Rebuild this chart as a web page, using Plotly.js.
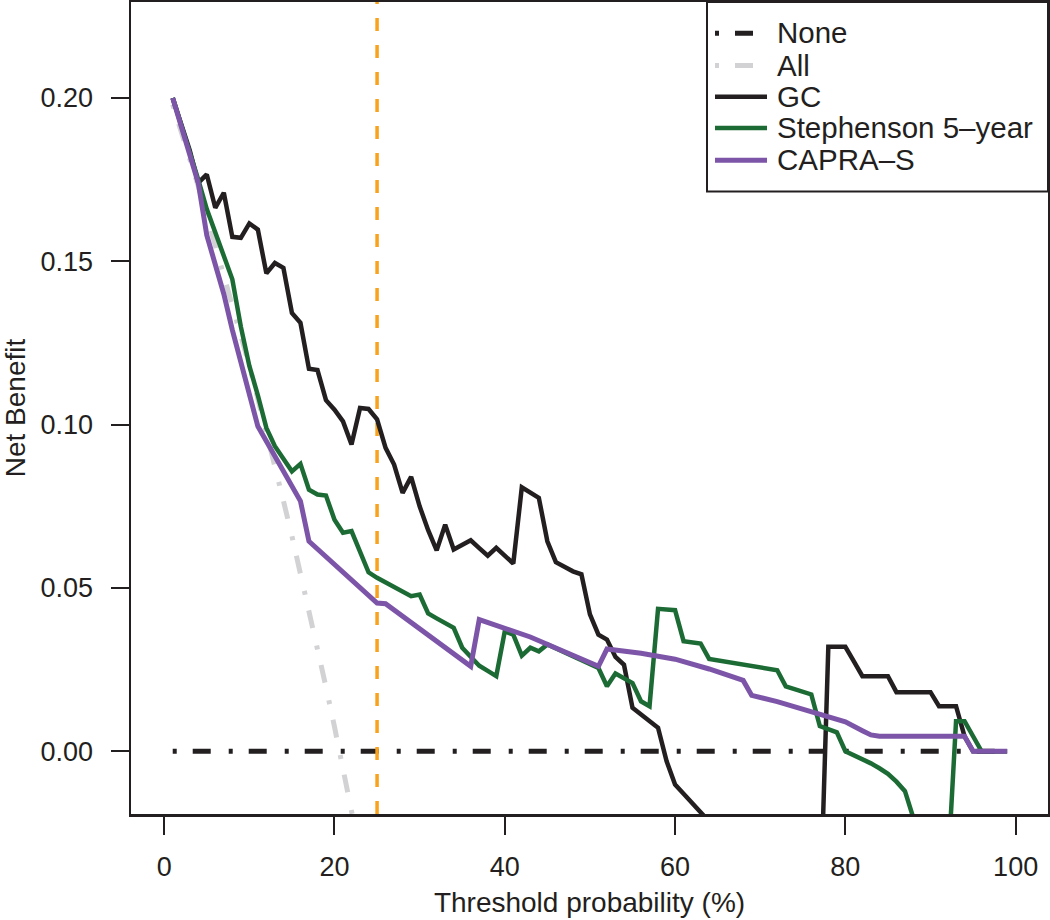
<!DOCTYPE html>
<html>
<head>
<meta charset="utf-8">
<script src="https://cdn.plot.ly/plotly-3.0.1.min.js"></script>
<style>
  html, body { margin: 0; padding: 0; background: #ffffff; }
  #chart { width: 1050px; height: 920px; }
</style>
</head>
<body>
<div id="chart"></div>
<script>
// ---------------- data ----------------
const seriesNames = ["None", "All", "GC", "Stephenson 5\u2013year", "CAPRA\u2013S"];

const noneX = [1, 99];
const noneY = [0, 0];

const allX = [1, 2, 3, 4, 5, 6, 7, 8, 9, 10, 11, 12, 13, 14, 15, 16, 17, 18, 19, 20, 21, 22, 23];
const allY = [0.198, 0.190, 0.1815, 0.173, 0.164, 0.155, 0.146, 0.137, 0.1275, 0.118, 0.108, 0.098,
              0.0874, 0.0767, 0.0659, 0.0547, 0.0434, 0.0317, 0.0197, 0.0075, -0.0050, -0.0180, -0.0312];

const gcX = [1, 2, 3, 4, 5, 6, 7, 8, 9, 10, 11, 12, 13, 14, 15, 16, 17, 18, 19, 20,
             21, 22, 23, 24, 25, 26, 27, 28, 29, 30, 31, 32, 33, 34, 35, 36, 37, 38, 39, 40,
             41, 42, 43, 44, 45, 46, 47, 48, 49, 50, 51, 52, 53, 54, 55, 56, 57, 58, 59, 60,
             61, 62, 63, 64, 70, 77, 78, 79, 80, 81, 82, 83, 84, 85, 86, 87, 88, 89, 90,
             91, 92, 93, 94, 95, 96, 97, 98, 99];
const gcY = [0.200, 0.192, 0.184, 0.174, 0.1766, 0.1664, 0.1710, 0.1575, 0.1572, 0.1616,
             0.1597, 0.1463, 0.1495, 0.1480, 0.1342, 0.1312, 0.1171, 0.1167, 0.1075, 0.1046,
             0.1010, 0.0939, 0.1051, 0.1048, 0.1016, 0.0929, 0.0878, 0.0791, 0.0840, 0.0750,
             0.0677, 0.0615, 0.0694, 0.0618, 0.0632, 0.0646, 0.0622, 0.0599, 0.0623, 0.0599,
             0.0575, 0.0808, 0.0792, 0.0776, 0.0643, 0.0579, 0.0565, 0.0551, 0.0542, 0.0419,
             0.0357, 0.0342, 0.0289, 0.0265, 0.0133, 0.0113, 0.0093, 0.0072, -0.0030, -0.0102,
             -0.0130, -0.0158, -0.0186, -0.0215, -0.040, -0.053, 0.032, 0.032, 0.032, 0.0275,
             0.023, 0.023, 0.023, 0.023, 0.0181, 0.0181, 0.0181, 0.0181, 0.0181,
             0.0138, 0.0138, 0.0138, 0.0046, 0, 0, 0, 0, 0];

const stX = [1, 2, 3, 4, 5, 6, 7, 8, 9, 10, 11, 12, 13, 14, 15, 16, 17, 18, 19, 20,
             21, 22, 23, 24, 25, 26, 27, 28, 29, 30, 31, 32, 33, 34, 35, 36, 37, 38, 39, 40,
             41, 42, 43, 44, 45, 51, 52, 53, 54, 55, 56, 57, 58, 59, 60, 61, 62, 63, 64, 68,
             72, 73, 74, 75, 76, 77, 78, 79, 80, 81, 82, 83, 84, 85, 86, 87, 88, 90, 92,
             93, 94, 95, 96, 99];
const stY = [0.200, 0.192, 0.184, 0.175, 0.166, 0.1587, 0.152, 0.1445, 0.130, 0.118,
             0.109, 0.099, 0.0934, 0.0895, 0.0857, 0.0880, 0.0801, 0.0786, 0.0783, 0.0709,
             0.0669, 0.0674, 0.0610, 0.0548, 0.0531, 0.0517, 0.0503, 0.0489, 0.0475, 0.0480,
             0.0422, 0.0407, 0.0393, 0.0378, 0.0317, 0.0290, 0.0262, 0.0246, 0.0230, 0.0367,
             0.0357, 0.0293, 0.0317, 0.0306, 0.0327, 0.0255, 0.0199, 0.0238, 0.0224, 0.0209,
             0.0153, 0.0138, 0.0436, 0.0434, 0.0432, 0.0337, 0.0334, 0.0330, 0.0283, 0.0266,
             0.0248, 0.0199, 0.0190, 0.0182, 0.0174, 0.0077, 0.0068, 0.0058, 0.0, -0.0012,
             -0.0024, -0.0037, -0.0052, -0.0069, -0.0093, -0.0122, -0.0205, -0.045, -0.038,
             0.0092, 0.0092, 0.0046, 0, 0];

const caX = [1, 2, 3, 4, 5, 6, 7, 8, 9, 10, 11, 16, 17, 25, 26, 36, 37, 43, 49, 51,
             52, 56, 60, 64, 68, 69, 72, 75, 78, 80, 82, 83, 84, 94, 95, 99];
const caY = [0.200, 0.191, 0.182, 0.174, 0.158, 0.149, 0.140, 0.129, 0.119, 0.109,
             0.0995, 0.0766, 0.0643, 0.0454, 0.0452, 0.0260, 0.0403, 0.0350, 0.0283, 0.0260,
             0.0313, 0.0300, 0.0282, 0.0252, 0.0217, 0.0171, 0.0152, 0.0130, 0.0108, 0.0090,
             0.0063, 0.0050, 0.0046, 0.0046, 0, 0];

const thresholdX = [25, 25];
const xTicks = [0, 20, 40, 60, 80, 100];
const yTicks = [0.00, 0.05, 0.10, 0.15, 0.20];
const xRange = [-3.9, 103.8];
const yRange = [-0.0192, 0.2294];

// ---------------- styling ----------------
const INK = "#231F20";
const GREEN = "#1C6B35";
const PURPLE = "#7D55A8";
const GREY = "#D2D2D4";
const ORANGE = "#F9A21B";
const FONT = "Liberation Sans, Arial, Helvetica, sans-serif";
const DASHDOT = "4px,16px,18px,18px";

const traces = [
  { x: noneX, y: noneY, name: seriesNames[0], mode: "lines",
    line: { color: INK, width: 5, dash: DASHDOT } },
  { x: allX, y: allY, name: seriesNames[1], mode: "lines",
    line: { color: GREY, width: 5, dash: DASHDOT } },
  { x: thresholdX, y: yRange, name: "threshold", mode: "lines",
    line: { color: ORANGE, width: 3.5, dash: "13px,14px" } },
  { x: gcX, y: gcY, name: seriesNames[2], mode: "lines",
    line: { color: INK, width: 4.5 } },
  { x: stX, y: stY, name: seriesNames[3], mode: "lines",
    line: { color: GREEN, width: 4.5 } },
  { x: caX, y: caY, name: seriesNames[4], mode: "lines",
    line: { color: PURPLE, width: 5 } }
];

// plot-area geometry (pixels) used only to place the hand-drawn legend
const M = { l: 131, r: 2, t: 2, b: 106 };
const W = 1050, H = 920;
const pw = W - M.l - M.r, ph = H - M.t - M.b;
const px2x = p => (p - M.l) / pw;
const py2y = p => (H - M.b - p) / ph;

const legendRows = [33.3, 65.5, 96.7, 128.0, 160.3];
const legendStyles = [
  { color: INK, width: 5, dash: DASHDOT },
  { color: GREY, width: 5, dash: DASHDOT },
  { color: INK, width: 4.5, dash: "solid" },
  { color: GREEN, width: 4.5, dash: "solid" },
  { color: PURPLE, width: 5, dash: "solid" }
];

const shapes = [
  { type: "rect", xref: "paper", yref: "paper",
    x0: px2x(707), x1: 1, y0: py2y(191.5), y1: 1,
    line: { color: INK, width: 2 }, fillcolor: "#ffffff", layer: "above" }
];
const annotations = [];
legendRows.forEach((row, i) => {
  shapes.push({ type: "line", xref: "paper", yref: "paper",
    x0: px2x(715), x1: px2x(767), y0: py2y(row), y1: py2y(row),
    line: legendStyles[i], layer: "above" });
  annotations.push({ xref: "paper", yref: "paper", x: px2x(775), y: py2y(row - 0.5),
    xanchor: "left", yanchor: "middle", showarrow: false, text: seriesNames[i],
    font: { family: FONT, size: 29.5, color: INK } });
});

const layout = {
  width: W, height: H,
  margin: M,
  paper_bgcolor: "#ffffff", plot_bgcolor: "#ffffff",
  showlegend: false,
  font: { family: FONT, color: INK },
  xaxis: {
    range: xRange, tickvals: xTicks, ticktext: xTicks.map(String),
    ticks: "outside", ticklen: 18, tickwidth: 2, tickcolor: INK,
    ticklabelstandoff: 9,
    tickfont: { family: FONT, size: 27, color: INK },
    showgrid: false, zeroline: false,
    showline: true, linecolor: INK, linewidth: 2.5, mirror: true,
    title: { text: "Threshold probability (%)", font: { family: FONT, size: 28, color: INK }, standoff: 12 }
  },
  yaxis: {
    range: yRange, tickvals: yTicks, ticktext: yTicks.map(v => v.toFixed(2)),
    ticks: "outside", ticklen: 18, tickwidth: 2, tickcolor: INK,
    ticklabelstandoff: 12,
    tickfont: { family: FONT, size: 27, color: INK },
    showgrid: false, zeroline: false,
    showline: true, linecolor: INK, linewidth: 2.5, mirror: true,
    title: { text: "Net Benefit", font: { family: FONT, size: 28, color: INK }, standoff: 18 }
  },
  shapes: shapes,
  annotations: annotations
};

Plotly.newPlot("chart", traces, layout, { displayModeBar: false, staticPlot: true });
</script>
</body>
</html>
